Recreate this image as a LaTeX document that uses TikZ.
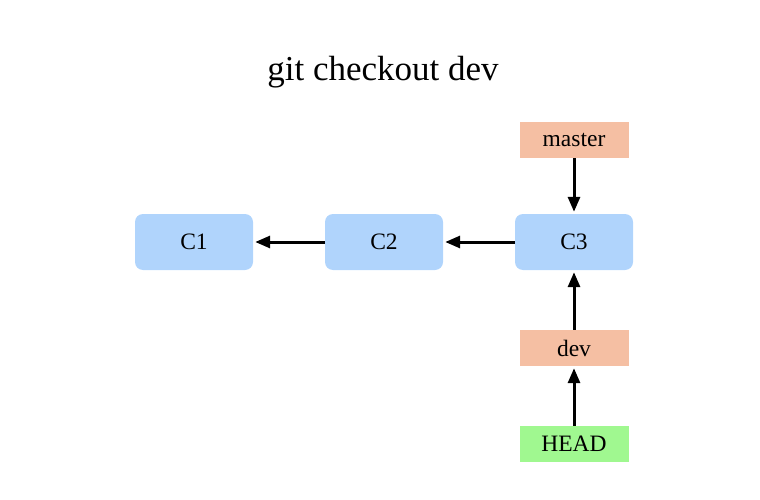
\documentclass[tikz,border=0pt]{standalone}
\usepackage{fontspec}
\setmainfont{Liberation Serif}
\usetikzlibrary{arrows.meta}
\definecolor{commitblue}{HTML}{B0D4FC}
\definecolor{branchsalmon}{HTML}{F5BFA3}
\definecolor{headgreen}{HTML}{A0F890}
\tikzset{
  commit/.style={fill=commitblue, rounded corners=8pt, minimum width=118pt, minimum height=56pt, inner sep=0pt, font=\fontsize{23.5}{28}\selectfont},
  branch/.style={fill=branchsalmon, minimum width=109pt, minimum height=36pt, inner sep=0pt, font=\fontsize{23.5}{28}\selectfont},
  headref/.style={fill=headgreen, minimum width=109pt, minimum height=36pt, inner sep=0pt, font=\fontsize{23.5}{28}\selectfont},
  link/.style={draw=black, line width=3pt, -{Triangle[length=15pt,width=12pt]}, shorten >=2pt}
}
\begin{document}
\begin{tikzpicture}[x=1pt,y=-1pt]
\useasboundingbox (0,0) rectangle (760,500);
\node[font=\fontsize{35}{42}\selectfont] (title) at (383,72) {git checkout dev};
\node[commit] (c1) at (194,242) {C1};
\node[commit] (c2) at (384,242) {C2};
\node[commit] (c3) at (574,242) {C3};
\node[branch] (master) at (574,140) {master};
\node[branch] (dev) at (574,348) {dev};
\node[headref] (head) at (574,444) {HEAD};
\draw[link] (c2.west) -- (c1.east);
\draw[link] (c3.west) -- (c2.east);
\draw[link] (master.south) -- (c3.north);
\draw[link] (dev.north) -- (c3.south);
\draw[link] (head.north) -- (dev.south);
\end{tikzpicture}
\end{document}
